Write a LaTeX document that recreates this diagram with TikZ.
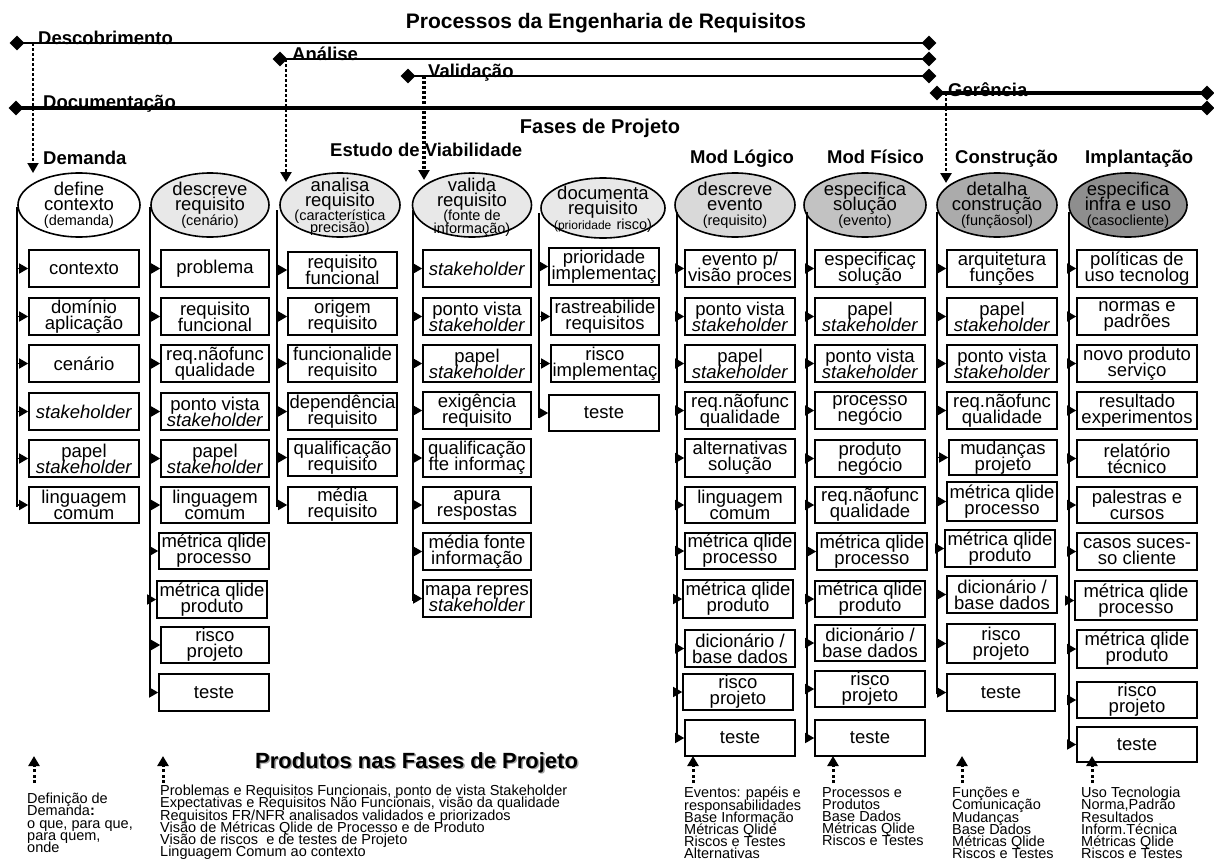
\documentclass[tikz,border=0pt]{standalone}
\usepackage{fontspec}
\setmainfont{Liberation Sans}
\usetikzlibrary{shapes.geometric,arrows.meta}
\lineskiplimit=-30pt
\AtBeginDocument{\lineskiplimit=-30pt\relax}
\definecolor{gA}{HTML}{E8E8E8}
\definecolor{gB}{HTML}{D9D9D9}
\definecolor{gC}{HTML}{C2C2C2}
\definecolor{gD}{HTML}{ABABAB}
\definecolor{gE}{HTML}{8E8E8E}
\newcommand{\smf}{\fontsize{14.5}{12.5}\selectfont}
\newcommand{\stk}{\textit{stakeholder}}
\newcommand{\bxn}[6]{\node[bx, minimum width={(#4)-(#2)}, minimum height={(#5)-(#3)}] (#1) at ({((#2)+(#4))/2},{((#3)+(#5))/2}) {#6};}
\newcommand{\cnx}[2]{\draw[conn] (#1.west -| #2) -- (#1.west);}
\tikzset{
  bx/.style={draw, line width=1.6pt, inner sep=0pt, align=center, font=\fontsize{18.5}{16}\selectfont},
  elp/.style={draw, ellipse, line width=1.6pt, minimum width=120pt, minimum height=64pt, inner sep=0pt},
  et/.style={align=center, inner sep=0pt, font=\fontsize{18.5}{15}\selectfont},
  conn/.style={line width=1.4pt, -{Triangle[length=9pt,width=10pt]}},
  vline/.style={line width=2pt},
  dia/.style={diamond, fill=black, minimum size=15pt, inner sep=0pt},
  pline/.style={line width=2.6pt},
  pthick/.style={line width=4pt},
  plab/.style={font=\fontsize{18.5}{20}\selectfont\bfseries, inner sep=0pt, anchor=base west},
  dotA/.style={dash pattern=on 3pt off 2pt, -{Triangle[length=10pt,width=11pt]}},
  btxt/.style={font=\fontsize{14.5}{12.2}\selectfont, align=left, inner sep=0pt, anchor=north west},
}
\begin{document}
\begin{tikzpicture}[x=1pt,y=-1pt]
\useasboundingbox (0,0) rectangle (1214,862);

% ---------- titles ----------
\node[font=\fontsize{21}{24}\selectfont\bfseries, inner sep=0pt, anchor=base] (title) at (606,28) {Processos da Engenharia de Requisitos};
\node[font=\fontsize{20}{24}\selectfont\bfseries, inner sep=0pt, anchor=base] (fases) at (600,133) {Fases de Projeto};

% ---------- process labels ----------
\node[plab] (lDes) at (38,44) {Descobrimento};
\node[plab] (lAna) at (292,60) {Análise};
\node[plab] (lVal) at (428,77) {Validação};
\node[plab] (lGer) at (948,96) {Gerência};
\node[plab] (lDoc) at (43,108) {Documentação};

% ---------- process lines ----------
\node[dia] (dDesL) at (17,43) {};  \node[dia] (dDesR) at (929,43) {};
\node[dia] (dAnaL) at (280,59) {}; \node[dia] (dAnaR) at (929,59) {};
\node[dia] (dValL) at (408,76) {}; \node[dia] (dValR) at (929,76) {};
\node[dia] (dGerL) at (937,93) {}; \node[dia] (dGerR) at (1207,93) {};
\node[dia] (dDocL) at (16,108) {}; \node[dia] (dDocR) at (1207,108) {};
\draw[pline] (dDesL.center) -- (dDesR.center);
\draw[pline] (dAnaL.center) -- (dAnaR.center);
\draw[pline] (dValL.center) -- (dValR.center);
\draw[pthick] (dGerL.center) -- (dGerR.center);
\draw[pthick] (dDocL.center) -- (dDocR.center);

% ---------- phase labels ----------
\node[plab] (fDem) at (43,164) {Demanda};
\node[plab] (fEst) at (330,156) {Estudo de Viabilidade};
\node[plab] (fLog) at (690,163) {Mod Lógico};
\node[plab] (fFis) at (827,163) {Mod Físico};
\node[plab] (fCon) at (955,163) {Construção};
\node[plab] (fImp) at (1085,163) {Implantação};

% ---------- dotted drops ----------
\coordinate (pDes) at (33,43);  \coordinate (aDes) at (33,173);
\coordinate (pAna) at (286,59); \coordinate (aAna) at (286,182);
\coordinate (pVal) at (424,76); \coordinate (aVal) at (424,180);
\coordinate (pGer) at (946,93); \coordinate (aGer) at (946,183);
\draw[dotA, line width=1.8pt] (pDes) -- (aDes);
\draw[dotA, line width=2.6pt] (pAna) -- (aAna);
\draw[dotA, line width=3.4pt] (pVal) -- (aVal);
\draw[dotA, line width=2.6pt] (pGer) -- (aGer);

% ---------- ellipses ----------
\node[elp, fill=white, minimum width=122pt] (e1) at (79,205) {};
\node[elp, fill=gA, minimum width=118pt] (e2) at (210,205) {};
\node[elp, fill=gA, minimum width=120pt] (e3) at (340,205) {};
\node[elp, fill=gA, minimum width=119pt] (e4) at (472,205) {};
\node[elp, fill=gA, minimum width=124pt, minimum height=60pt] (e5) at (603,208) {};
\node[elp, fill=gB, minimum width=120pt] (e6) at (735,205) {};
\node[elp, fill=gC, minimum width=122pt] (e7) at (865,205) {};
\node[elp, fill=gD, minimum width=120pt] (e8) at (997,205) {};
\node[elp, fill=gE, minimum width=118pt] (e9) at (1128,205) {};
\node[et] (t1) at (e1.center) {define\\contexto\\\smf(demanda)};
\node[et] (t2) at (e2.center) {descreve\\requisito\\\smf(cenário)};
\node[et] (t3) at ([yshift=-2pt]e3.center) {analisa\\requisito\\[-1pt]\smf(característica\\[-3pt]\smf precisão)};
\node[et] (t4) at ([yshift=-2pt]e4.center) {valida\\requisito\\[-1pt]\smf(fonte de\\[-2pt]\smf informação)};
\node[et] (t5) at ([yshift=-1pt]e5.center) {documenta\\requisito\\{\fontsize{12}{12.5}\selectfont(prioridade} \smf risco)};
\node[et] (t6) at (e6.center) {descreve\\evento\\\smf(requisito)};
\node[et] (t7) at (e7.center) {especifica\\solução\\\smf(evento)};
\node[et] (t8) at (e8.center) {detalha\\construção\\\smf(funçãosol)};
\node[et] (t9) at (e9.center) {especifica\\infra e uso\\\smf(casocliente)};

% ---------- column 1 ----------
\coordinate (L1t) at (17,207); \coordinate (L1b) at (17,507);
\draw[vline] (L1t) -- (L1b);
\bxn{c1a}{29}{250}{139}{287}{contexto}
\bxn{c1b}{29}{298}{139}{335}{domínio\\aplicação}
\bxn{c1c}{29}{345}{139}{382}{cenário}
\bxn{c1d}{29}{393}{139}{430}{\stk}
\bxn{c1e}{29}{440}{139}{477}{papel\\\stk}
\bxn{c1f}{29}{487}{139}{523}{linguagem\\comum}
\foreach \b in {c1a,c1b,c1c,c1d,c1e,c1f} {\cnx{\b}{L1t}}

% ---------- column 2 ----------
\coordinate (L2t) at (150,207); \coordinate (L2b) at (150,695);
\draw[vline] (L2t) -- (L2b);
\bxn{c2a}{161}{250}{269}{287}{problema}
\bxn{c2b}{161}{298}{269}{335}{requisito\\funcional}
\bxn{c2c}{161}{345}{269}{382}{req.nãofunc\\qualidade}
\bxn{c2d}{161}{393}{269}{430}{ponto vista\\\stk}
\bxn{c2e}{161}{440}{269}{477}{papel\\\stk}
\bxn{c2f}{161}{487}{269}{523}{linguagem\\comum}
\bxn{c2g}{159}{533}{269}{569}{métrica qlide\\processo}
\bxn{c2h}{157}{581}{267}{618}{métrica qlide\\produto}
\bxn{c2i}{161}{627}{269}{663}{risco\\projeto}
\bxn{c2j}{159}{674}{269}{711}{teste}
\foreach \b in {c2a,c2b,c2c,c2d,c2e,c2f,c2g,c2h,c2i,c2j} {\cnx{\b}{L2t}}

% ---------- column 3 ----------
\coordinate (L3t) at (277,210); \coordinate (L3b) at (277,507);
\draw[vline] (L3t) -- (L3b);
\bxn{c3a}{288}{252}{397}{288}{requisito\\funcional}
\bxn{c3b}{288}{298}{397}{335}{origem\\requisito}
\bxn{c3c}{288}{345}{397}{382}{funcionalide\\requisito}
\bxn{c3d}{288}{393}{397}{430}{dependência\\requisito}
\bxn{c3e}{288}{439}{397}{476}{qualificação\\requisito}
\bxn{c3f}{288}{487}{397}{523}{média\\requisito}
\foreach \b in {c3a,c3b,c3c,c3d,c3e,c3f} {\cnx{\b}{L3t}}

% ---------- column 4 ----------
\coordinate (L4t) at (413,210); \coordinate (L4b) at (413,601);
\draw[vline] (L4t) -- (L4b);
\bxn{c4a}{423}{250}{531}{287}{\stk}
\bxn{c4b}{423}{298}{531}{335}{ponto vista\\\stk}
\bxn{c4c}{423}{345}{531}{382}{papel\\\stk}
\bxn{c4d}{423}{392}{531}{429}{exigência\\requisito}
\bxn{c4e}{423}{439}{531}{477}{qualificação\\fte informaç}
\bxn{c4f}{423}{487}{531}{523}{apura\\respostas}
\bxn{c4g}{423}{533}{531}{570}{média fonte\\informação}
\bxn{c4h}{423}{580}{531}{617}{mapa repres\\\stk}
\foreach \b in {c4a,c4b,c4c,c4d,c4e,c4f,c4g,c4h} {\cnx{\b}{L4t}}

% ---------- column 5 ----------
\coordinate (L5t) at (539,213); \coordinate (L5b) at (539,418);
\draw[vline] (L5t) -- (L5b);
\bxn{c5a}{549}{248}{659}{285}{prioridade\\implementaç}
\bxn{c5b}{551}{298}{659}{335}{rastreabilide\\requisitos}
\bxn{c5c}{551}{345}{659}{382}{risco\\implementaç}
\bxn{c5d}{549}{395}{659}{431}{teste}
\foreach \b in {c5a,c5b,c5c,c5d} {\cnx{\b}{L5t}}

% ---------- column 6 ----------
\coordinate (L6t) at (677,212); \coordinate (L6b) at (677,742);
\draw[vline] (L6t) -- (L6b);
\bxn{c6a}{685}{250}{795}{287}{evento p/\\visão proces}
\bxn{c6b}{685}{298}{795}{335}{ponto vista\\\stk}
\bxn{c6c}{685}{345}{795}{382}{papel\\\stk}
\bxn{c6d}{685}{392}{795}{429}{req.nãofunc\\qualidade}
\bxn{c6e}{685}{439}{795}{477}{alternativas\\solução}
\bxn{c6f}{685}{487}{795}{523}{linguagem\\comum}
\bxn{c6g}{685}{533}{795}{569}{métrica qlide\\processo}
\bxn{c6h}{683}{580}{793}{618}{métrica qlide\\produto}
\bxn{c6i}{685}{630}{795}{667}{dicionário /\\base dados}
\bxn{c6j}{683}{674}{793}{710}{risco\\projeto}
\bxn{c6k}{685}{720}{795}{756}{teste}
\foreach \b in {c6a,c6b,c6c,c6d,c6e,c6f,c6g,c6h,c6i,c6j,c6k} {\cnx{\b}{L6t}}

% ---------- column 7 ----------
\coordinate (L7t) at (807,212); \coordinate (L7b) at (807,742);
\draw[vline] (L7t) -- (L7b);
\bxn{c7a}{815}{250}{925}{287}{especificaç\\solução}
\bxn{c7b}{815}{298}{925}{335}{papel\\\stk}
\bxn{c7c}{815}{345}{925}{382}{ponto vista\\\stk}
\bxn{c7d}{815}{392}{925}{429}{processo\\negócio}
\bxn{c7e}{815}{440}{925}{477}{produto\\negócio}
\bxn{c7f}{815}{487}{925}{523}{req.nãofunc\\qualidade}
\bxn{c7g}{817}{533}{927}{570}{métrica qlide\\processo}
\bxn{c7h}{815}{581}{925}{617}{métrica qlide\\produto}
\bxn{c7i}{815}{625}{925}{661}{dicionário /\\base dados}
\bxn{c7j}{815}{671}{925}{707}{risco\\projeto}
\bxn{c7k}{815}{720}{925}{756}{teste}
\foreach \b in {c7a,c7b,c7c,c7d,c7e,c7f,c7g,c7h,c7i,c7j,c7k} {\cnx{\b}{L7t}}

% ---------- column 8 ----------
\coordinate (L8t) at (937,212); \coordinate (L8b) at (937,694);
\draw[vline] (L8t) -- (L8b);
\bxn{c8a}{947}{250}{1057}{287}{arquitetura\\funções}
\bxn{c8b}{947}{298}{1057}{335}{papel\\\stk}
\bxn{c8c}{947}{345}{1057}{382}{ponto vista\\\stk}
\bxn{c8d}{947}{392}{1057}{429}{req.nãofunc\\qualidade}
\bxn{c8e}{949}{440}{1057}{475}{mudanças\\projeto}
\bxn{c8f}{947}{482}{1057}{521}{métrica qlide\\processo}
\bxn{c8g}{945}{530}{1055}{567}{métrica qlide\\produto}
\bxn{c8h}{947}{576}{1057}{613}{dicionário /\\base dados}
\bxn{c8i}{947}{624}{1055}{663}{risco\\projeto}
\bxn{c8j}{947}{674}{1055}{711}{teste}
\foreach \b in {c8a,c8b,c8c,c8d,c8e,c8f,c8g,c8h,c8i,c8j} {\cnx{\b}{L8t}}

% ---------- column 9 ----------
\coordinate (L9t) at (1069,212); \coordinate (L9b) at (1069,748);
\draw[vline] (L9t) -- (L9b);
\bxn{c9a}{1077}{250}{1197}{287}{políticas de\\uso tecnolog}
\bxn{c9b}{1077}{298}{1197}{335}{normas e\\padrões}
\bxn{c9c}{1077}{345}{1197}{382}{novo produto\\serviço}
\bxn{c9d}{1077}{392}{1197}{429}{resultado\\experimentos}
\bxn{c9e}{1077}{440}{1197}{477}{relatório\\técnico}
\bxn{c9f}{1077}{487}{1197}{523}{palestras e\\cursos}
\bxn{c9g}{1077}{533}{1197}{570}{casos suces-\\so cliente}
\bxn{c9h}{1075}{581}{1197}{620}{métrica qlide\\processo}
\bxn{c9i}{1077}{630}{1197}{668}{métrica qlide\\produto}
\bxn{c9j}{1077}{682}{1197}{718}{risco\\projeto}
\bxn{c9k}{1077}{727}{1197}{762}{teste}
\foreach \b in {c9a,c9b,c9c,c9d,c9e,c9f,c9g,c9h,c9i,c9j,c9k} {\cnx{\b}{L9t}}

% ---------- bottom ----------
\node[font=\fontsize{22}{24}\selectfont\bfseries, text=black!35, inner sep=0pt, anchor=base west] (prodS) at (256.5,769.5) {Produtos nas Fases de Projeto};
\node[font=\fontsize{22}{24}\selectfont\bfseries, inner sep=0pt, anchor=base west] (prod) at (255,768) {Produtos nas Fases de Projeto};

\foreach \n/\xx in {s1/34, s2/163, s3/693, s4/833, s5/962, s6/1092} {
  \coordinate (\n b) at (\xx,783);
  \coordinate (\n t) at (\xx,756);
}
\foreach \n in {s1,s2,s3,s4,s5,s6} {
  \draw[dotA, line width=3pt, dash pattern=on 3pt off 2.5pt] (\n b) -- (\n t);
}

\node[btxt] (b1) at (27,793) {Definição de\\Demanda\textbf{:}\\o que, para que,\\para quem,\\onde};
\node[btxt] (b2) at (160,785) {Problemas e Requisitos Funcionais, ponto de vista Stakeholder\\Expectativas e Requisitos Não Funcionais, visão da qualidade\\Requisitos FR/NFR analisados validados e priorizados\\Visão de Métricas Qlide de Processo e de Produto\\Visão de riscos\ \ e de testes de Projeto\\Linguagem Comum ao contexto};
\node[btxt] (b3) at (684,787) {Eventos: papéis e\\responsabilidades\\Base Informação\\Métricas Qlide\\Riscos e Testes\\Alternativas};
\node[btxt] (b4) at (822,787) {Processos e\\Produtos\\Base Dados\\Métricas Qlide\\Riscos e Testes};
\node[btxt] (b5) at (952,787) {Funções e\\Comunicação\\Mudanças\\Base Dados\\Métricas Qlide\\Riscos e Testes};
\node[btxt] (b6) at (1081,787) {Uso Tecnologia\\Norma,Padrão\\Resultados\\Inform.Técnica\\Métricas Qlide\\Riscos e Testes};
\end{tikzpicture}
\end{document}
